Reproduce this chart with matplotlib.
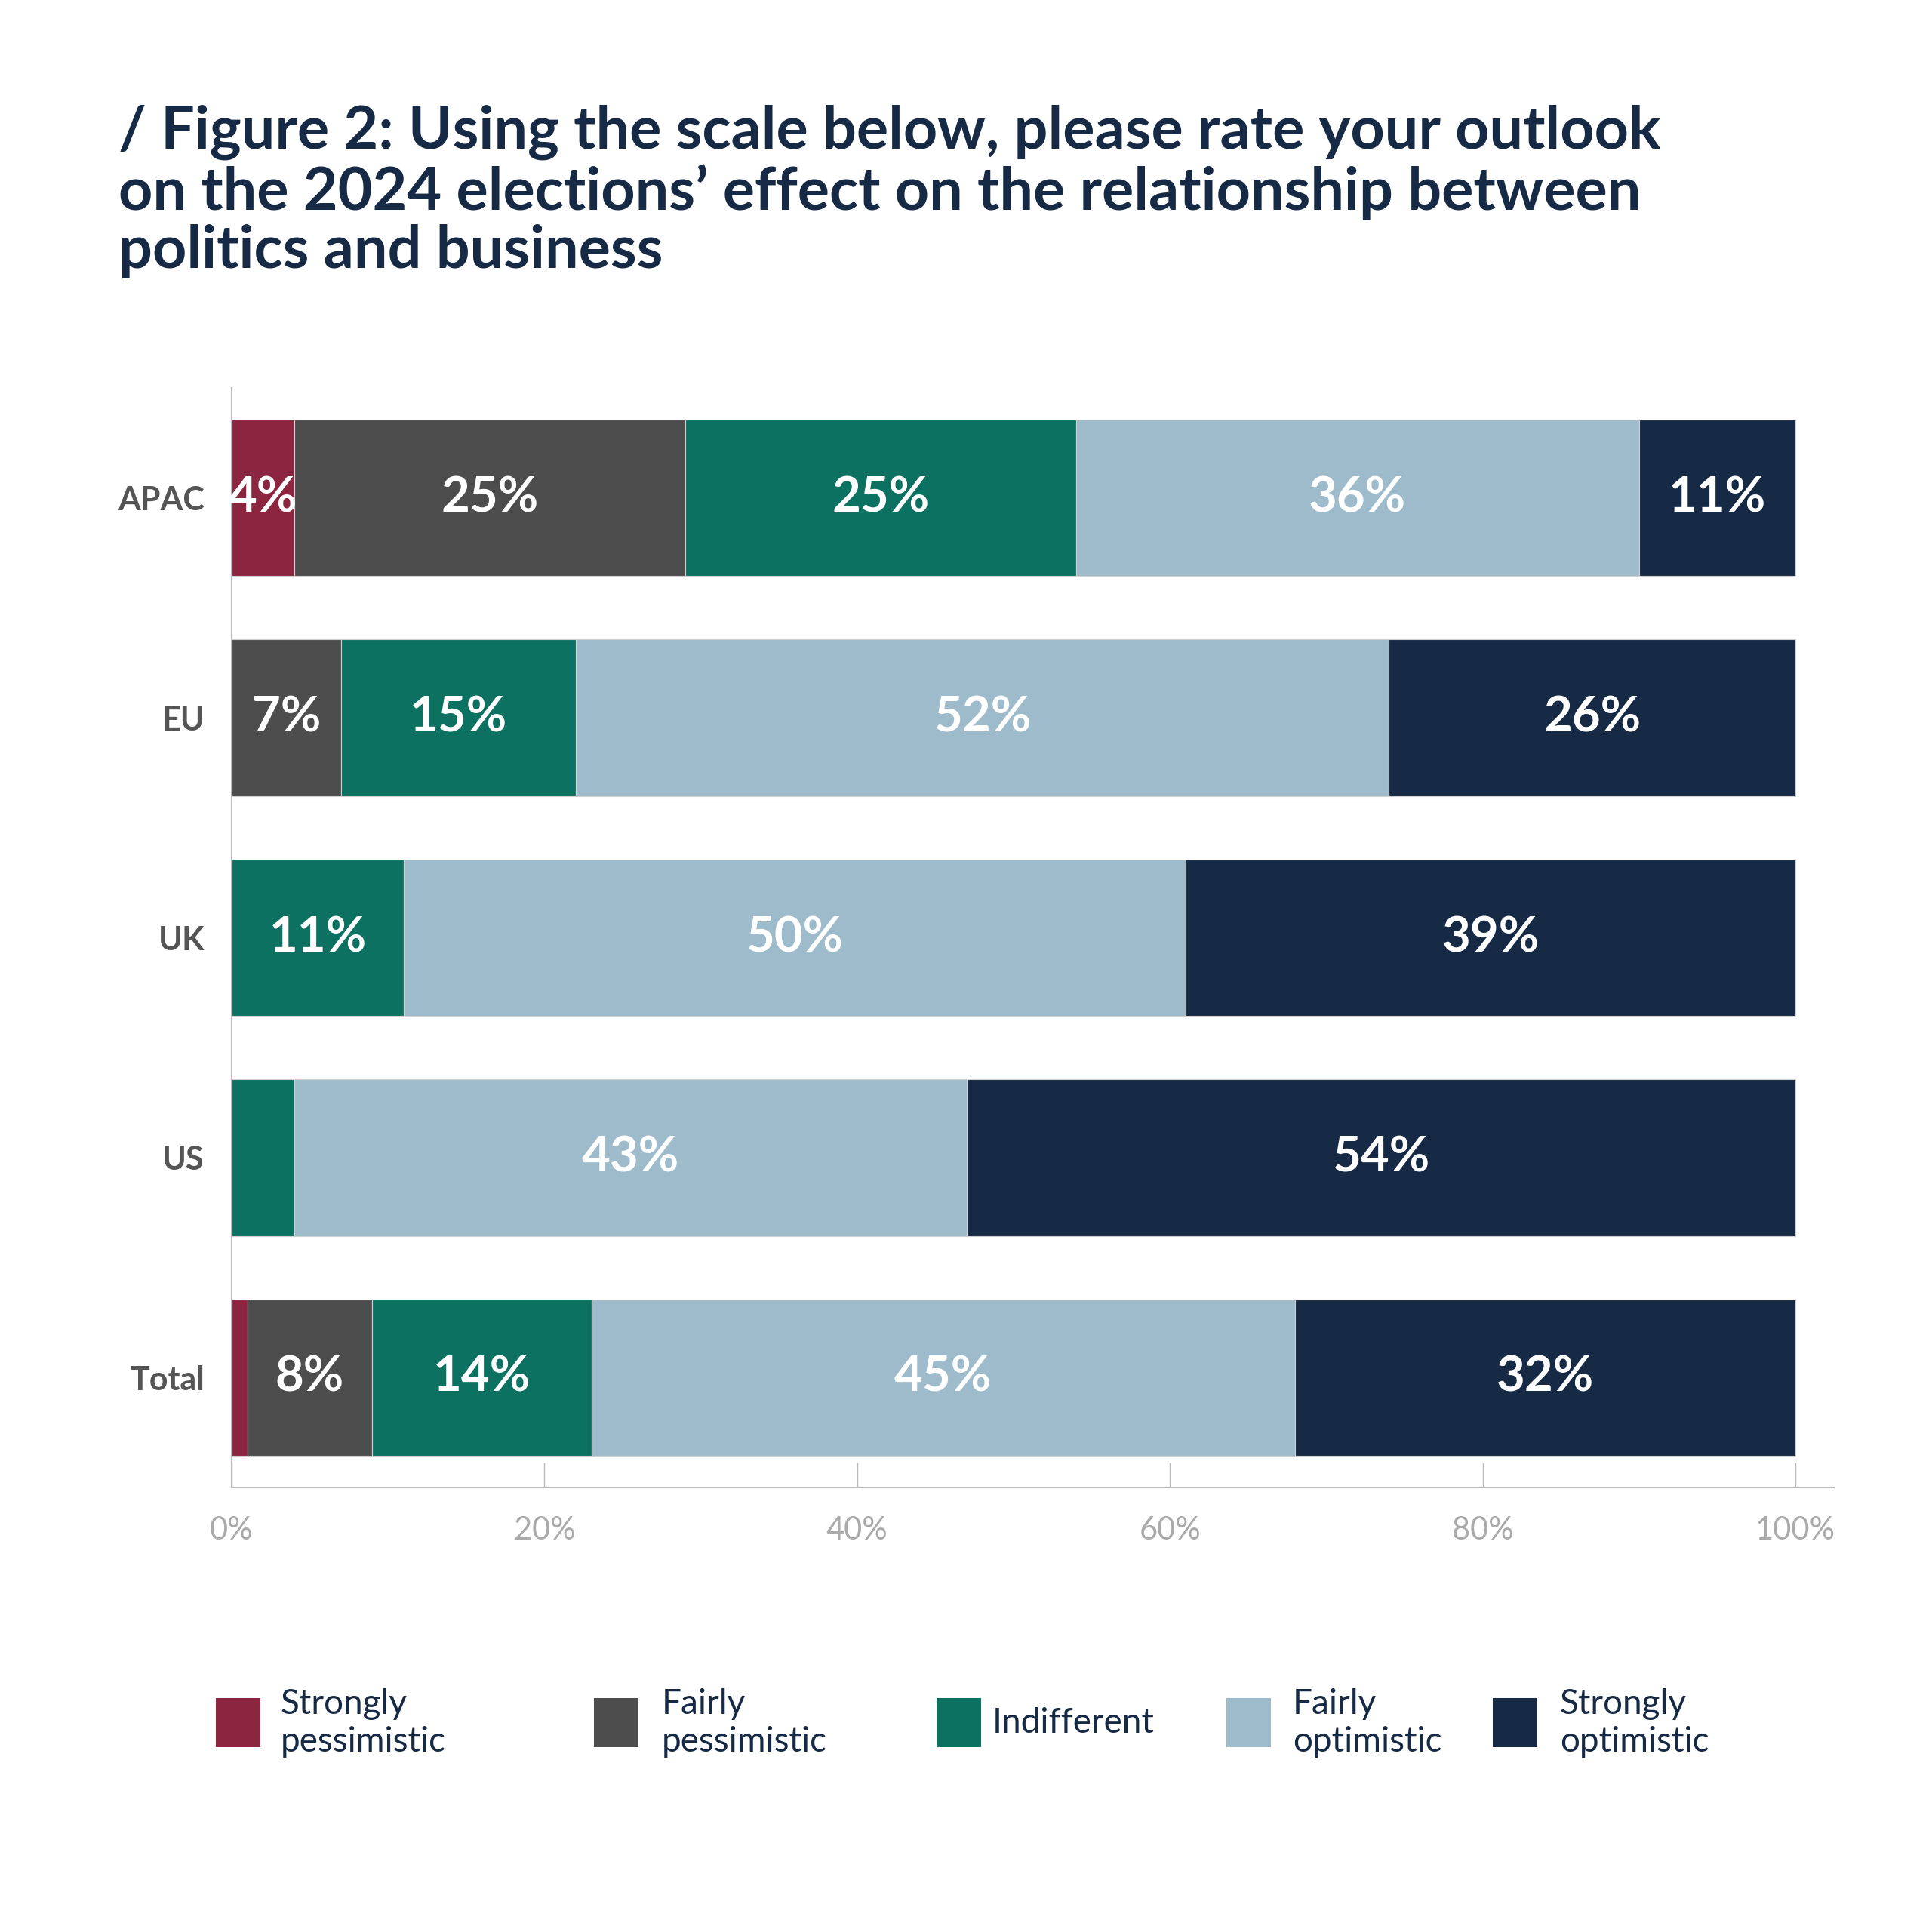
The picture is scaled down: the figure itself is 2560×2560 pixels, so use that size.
import matplotlib
matplotlib.use('Agg')
import matplotlib.pyplot as plt
from matplotlib.patches import Rectangle

# ---- data ----
categories = ['APAC', 'EU', 'UK', 'US', 'Total']
series_names = ['Strongly\npessimistic', 'Fairly\npessimistic', 'Indifferent',
                'Fairly\noptimistic', 'Strongly\noptimistic']
strongly_pessimistic = [4, 0, 0, 0, 1]
fairly_pessimistic = [25, 7, 0, 0, 8]
indifferent = [25, 15, 11, 4, 14]
fairly_optimistic = [36, 52, 50, 43, 45]
strongly_optimistic = [11, 26, 39, 54, 32]
series_values = [strongly_pessimistic, fairly_pessimistic, indifferent,
                 fairly_optimistic, strongly_optimistic]
# segments without a printed label in the source
unlabeled = {('US', 2), ('Total', 0)}
xtick_values = [0, 20, 40, 60, 80, 100]
xtick_labels = ['0%', '20%', '40%', '60%', '80%', '100%']
title = ("/ Figure 2: Using the scale below, please rate your outlook\n"
         "on the 2024 elections\u2019 effect on the relationship between\n"
         "politics and business")

colors = ['#8B2540', '#4D4D4D', '#0D7161', '#9DBBCB', '#172A45']
NAVY = '#172A45'
GRID = '#BBBBBB'

plt.rcParams['font.family'] = ['Lato', 'DejaVu Sans']

W = 2560
fig = plt.figure(figsize=(25.6, 25.6), dpi=100)
fig.patch.set_facecolor('white')

fig.text(157 / W, 1 - 139 / W, title, ha='left', va='top', fontsize=57,
         fontweight='bold', color=NAVY, linespacing=1.08)

ax = fig.add_axes([307 / W, 1 - 1971 / W, (2430 - 307) / W, (1971 - 514) / W])
xmax = 100 * (2430 - 307) / (2379 - 307)
ax.set_xlim(0, xmax)
ax.set_ylim(len(categories) - 0.5, -0.5)

ypos = list(range(len(categories)))
lefts = [0.0] * len(categories)
for si, vals in enumerate(series_values):
    widths = []
    for ci, v in enumerate(vals):
        right = min(lefts[ci] + v, 100)
        widths.append(max(right - lefts[ci], 0))
    ax.barh(ypos, widths, left=lefts, height=0.712, color=colors[si],
            edgecolor='#D0D0D0', linewidth=0.8, zorder=2)
    for ci, v in enumerate(vals):
        if v > 0 and (categories[ci], si) not in unlabeled:
            cx = lefts[ci] + widths[ci] / 2
            ax.text(cx, ypos[ci], f'{v}%', ha='center', va='center',
                    color='white', fontsize=47, fontweight='bold', zorder=3)
    lefts = [l + w for l, w in zip(lefts, widths)]

for s in ['top', 'right']:
    ax.spines[s].set_visible(False)
for s in ['left', 'bottom']:
    ax.spines[s].set_color(GRID)
    ax.spines[s].set_linewidth(1.5)

ax.set_xticks(xtick_values)
ax.set_xticklabels(xtick_labels)
ax.tick_params(axis='x', direction='in', length=24, width=1, color=GRID,
               labelsize=30, labelcolor='#AAAAAA', pad=27)
ax.set_yticks(ypos)
ax.set_yticklabels(categories)
ax.tick_params(axis='y', direction='in', length=3, width=1, color=GRID,
               labelsize=31, labelcolor='#555555', pad=26)
for lab in ax.get_yticklabels():
    lab.set_fontweight('bold')

# ---- legend ----
patch_x = [286, 787, 1241, 1625, 1978]
text_x = [372, 877, 1315, 1713, 2067]
ly = 2283
for i, name in enumerate(series_names):
    fig.patches.append(Rectangle((patch_x[i] / W, 1 - (ly + 32) / W), 59 / W, 65 / W,
                                 transform=fig.transFigure, facecolor=colors[i],
                                 edgecolor='none'))
    fig.text(text_x[i] / W, 1 - ly / W, name, ha='left', va='center',
             fontsize=33, color=NAVY, linespacing=1.22)

fig.savefig('out.png', dpi=100, facecolor='white')
